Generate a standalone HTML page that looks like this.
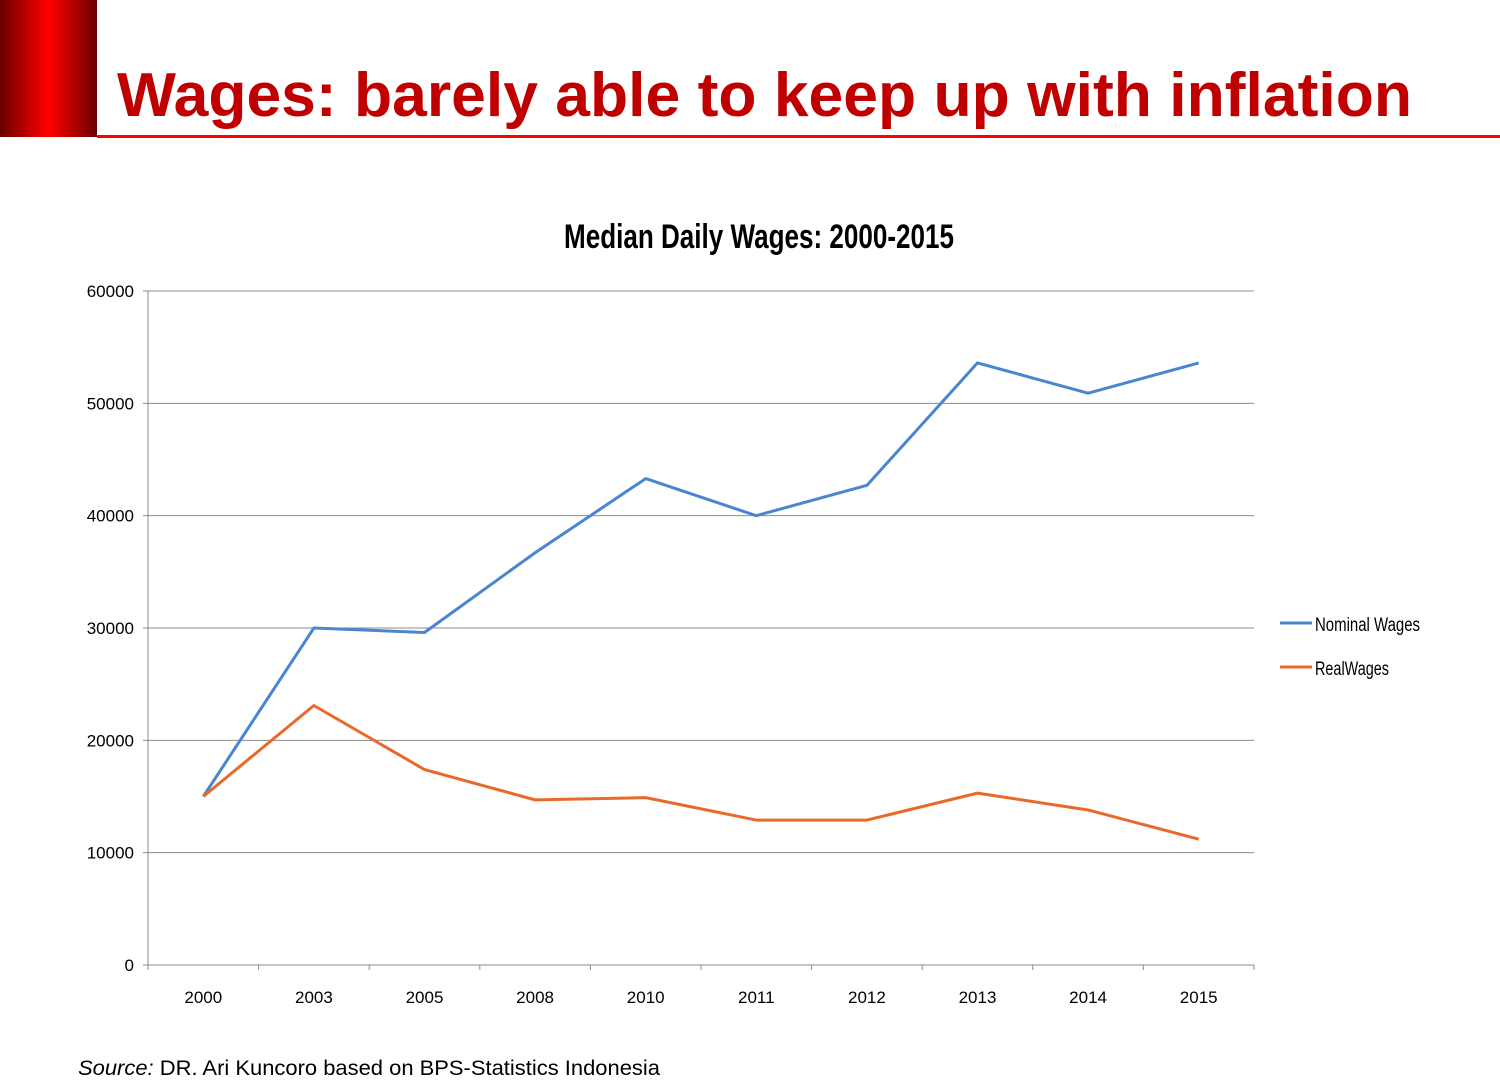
<!DOCTYPE html>
<html><head><meta charset="utf-8"><style>
html,body{margin:0;padding:0;background:#fff;}
svg{display:block;font-family:"Liberation Sans",sans-serif;}
</style></head><body>
<svg width="1500" height="1089" viewBox="0 0 1500 1089">
<defs><linearGradient id="hg" x1="0" x2="1" y1="0" y2="0">
<stop offset="0" stop-color="#6a0000"/><stop offset="0.5" stop-color="#ff0000"/><stop offset="1" stop-color="#6a0000"/></linearGradient></defs>
<rect x="0" y="0" width="97" height="137" fill="url(#hg)"/>
<rect x="97" y="135" width="1403" height="3" fill="#ff0000"/>
<text x="117" y="116" font-size="62" font-weight="bold" fill="#c00000" textLength="1295" lengthAdjust="spacingAndGlyphs">Wages: barely able to keep up with inflation</text>
<text x="759" y="248" font-size="34" font-weight="bold" fill="#000" text-anchor="middle" textLength="390" lengthAdjust="spacingAndGlyphs">Median Daily Wages: 2000-2015</text>
<g id="grid"></g><g id="axes"></g><g id="series"></g>
<g>
<line x1="1280" y1="623" x2="1312" y2="623" stroke="#4a86cf" stroke-width="3"/>
<text x="1315" y="631" font-size="19" textLength="105" lengthAdjust="spacingAndGlyphs">Nominal Wages</text>
<line x1="1280" y1="667" x2="1312" y2="667" stroke="#e8692a" stroke-width="3"/>
<text x="1315" y="675" font-size="19" textLength="74" lengthAdjust="spacingAndGlyphs">RealWages</text>
</g>
<text x="78" y="1075" font-size="21" fill="#000" textLength="582" lengthAdjust="spacingAndGlyphs"><tspan font-style="italic">Source:</tspan> DR. Ari Kuncoro based on BPS-Statistics Indonesia</text>
</svg>
<script>
const categories=["2000","2003","2005","2008","2010","2011","2012","2013","2014","2015"];
const nominalWages=[15000,30000,29600,36700,43300,40000,42700,53600,50900,53600];
const realWages=[15000,23100,17400,14700,14900,12900,12900,15300,13800,11200];
const yTicks=[0,10000,20000,30000,40000,50000,60000];
const NS="http://www.w3.org/2000/svg";
const L=148,R=1254,T=291,B=965,yMax=60000;
const bw=(R-L)/categories.length;
const xS=i=>L+bw*(i+0.5);
const yS=v=>B-(v/yMax)*(B-T);
function mk(tag,attrs,parent){const e=document.createElementNS(NS,tag);for(const k in attrs)e.setAttribute(k,attrs[k]);parent.appendChild(e);return e;}
const grid=document.getElementById('grid'),axes=document.getElementById('axes'),series=document.getElementById('series');
yTicks.forEach(v=>{
  if(v>0){const g=mk('line',{x1:L,x2:R,y1:yS(v),y2:yS(v),stroke:'#8c8c8c','stroke-width':1},grid);
  
  }
  const tk=mk('line',{x1:L-5,x2:L,y1:yS(v),y2:yS(v),stroke:'#8c8c8c'},axes);
  
  
  const t=mk('text',{x:L-14,y:yS(v)+6,'font-size':17,'text-anchor':'end'},axes);
  
  
  t.textContent=v;
});
const ya=mk('line',{x1:L,x2:L,y1:T,y2:B,stroke:'#8c8c8c'},axes);


const xa=mk('line',{x1:L,x2:R,y1:B,y2:B,stroke:'#8c8c8c'},axes);


for(let i=0;i<=categories.length;i++){
  const tk=mk('line',{x1:L+bw*i,x2:L+bw*i,y1:B,y2:B+5,stroke:'#8c8c8c'},axes);
  
  
}
categories.forEach((c,i)=>{
  const t=mk('text',{x:xS(i),y:B+38,'font-size':17,'text-anchor':'middle'},axes);
  
  
  t.textContent=c;
});
function line(vals,color,name){
  const p=mk('polyline',{points:vals.map((v,i)=>xS(i)+','+yS(v)).join(' '),fill:'none',stroke:color,'stroke-width':3,'stroke-linejoin':'round'},series);
  
  
}
line(nominalWages,'#4a86cf','nominal-wages-line');
line(realWages,'#e8692a','real-wages-line');
</script>
</body></html>
